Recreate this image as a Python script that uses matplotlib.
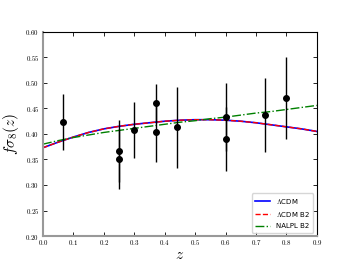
import numpy as np
import matplotlib
matplotlib.use("Agg")
import matplotlib.pyplot as plt
from matplotlib.ticker import FuncFormatter, MultipleLocator

plt.rcParams['mathtext.fontset'] = 'cm'

# measurements
z_data = [0.067, 0.25, 0.25, 0.30, 0.37, 0.37, 0.44, 0.60, 0.60, 0.73, 0.80]
fs8_data = [0.423, 0.3665, 0.351, 0.408, 0.460, 0.403, 0.413, 0.390, 0.433, 0.437, 0.470]
fs8_err = [0.055, 0.060, 0.058, 0.055, 0.038, 0.058, 0.080, 0.063, 0.067, 0.072, 0.080]

# model curves
z_grid = [0.0, 0.05, 0.1, 0.15, 0.2, 0.25, 0.3, 0.35, 0.4, 0.45, 0.5,
          0.55, 0.6, 0.65, 0.7, 0.75, 0.8, 0.85, 0.9]
lcdm = [0.373, 0.384, 0.394, 0.403, 0.410, 0.415, 0.419, 0.422, 0.425, 0.427, 0.428,
        0.428, 0.427, 0.425, 0.422, 0.418, 0.414, 0.410, 0.405]
lcdm_b2 = lcdm
nalpl_b2 = [0.380, 0.387, 0.393, 0.398, 0.403, 0.407, 0.411, 0.415, 0.419, 0.423, 0.426,
            0.430, 0.433, 0.437, 0.441, 0.444, 0.448, 0.452, 0.456]

fig = plt.figure(figsize=(3.52, 2.64), dpi=100)
ax = fig.add_axes([0.122, 0.106, 0.778, 0.773])

ax.plot(z_grid, lcdm, color='blue', lw=1.2, label=r'$\Lambda$CDM')
ax.plot(z_grid, lcdm_b2, color='red', lw=1.0, ls='--', label=r'$\Lambda$CDM B2')
ax.plot(z_grid, nalpl_b2, color='green', lw=1.0, ls='-.', label='NALPL B2')
ax.errorbar(z_data, fs8_data, yerr=fs8_err, fmt='o', color='black', ms=4,
            elinewidth=1.0, capsize=0)

ax.set_xlim(0, 0.9)
ax.set_ylim(0.2, 0.6)
ax.xaxis.set_major_locator(MultipleLocator(0.1))
ax.yaxis.set_major_locator(MultipleLocator(0.05))
ax.xaxis.set_major_formatter(FuncFormatter(lambda v, p: r'$%.1f$' % v))
ax.yaxis.set_major_formatter(FuncFormatter(lambda v, p: r'$%.2f$' % v))
ax.tick_params(direction='in', top=True, right=True, labelsize=5, length=3, width=0.6)
ax.tick_params(axis='x', pad=1.5)
ax.tick_params(axis='y', pad=2.5)

for s in ['left', 'bottom']:
    ax.spines[s].set_color('#999999')
    ax.spines[s].set_linewidth(1.5)
for s in ['top', 'right']:
    ax.spines[s].set_linewidth(0.8)

ax.set_xlabel(r'$z$', fontsize=11, labelpad=0)
ax.set_ylabel(r'$f\sigma_8(z)$', fontsize=11, labelpad=3)

ax.legend(loc='lower right', fontsize=5, handlelength=2.2, borderpad=0.5, labelspacing=0.6)

fig.savefig('out.png', dpi=100)
